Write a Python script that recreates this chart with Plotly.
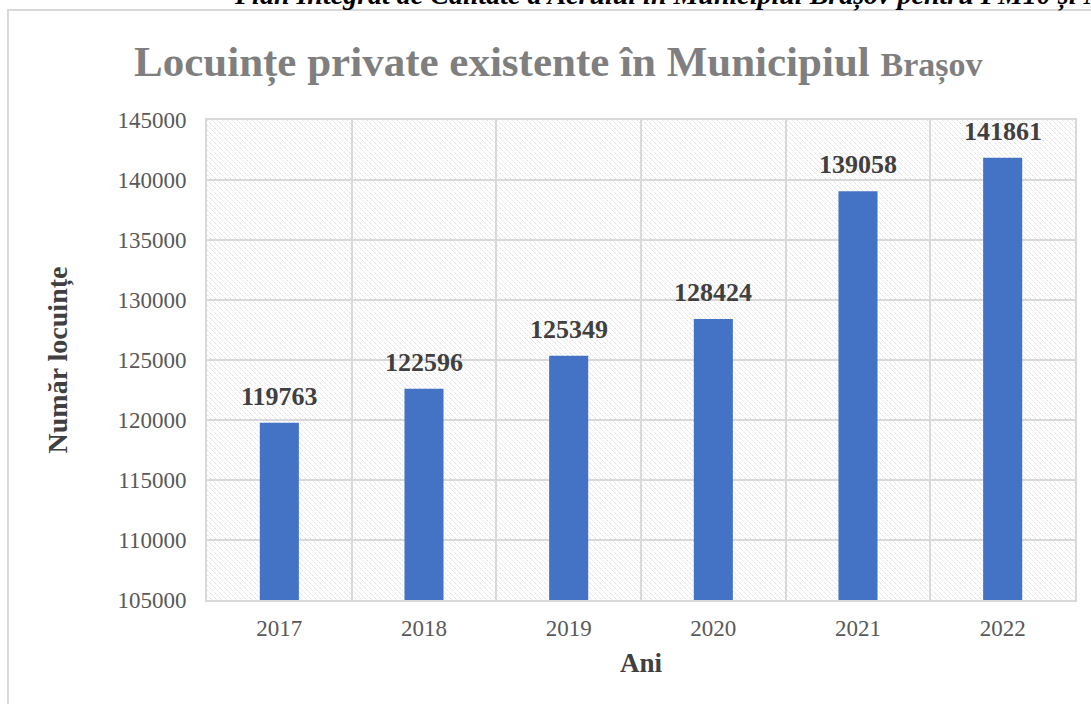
import base64
import plotly.graph_objects as go

# data
years = ["2017", "2018", "2019", "2020", "2021", "2022"]
dwellings = [119763, 122596, 125349, 128424, 139058, 141861]
y_ticks = [105000, 110000, 115000, 120000, 125000, 130000, 135000, 140000, 145000]

SERIF = "Liberation Serif, Times New Roman, serif"
GRID = "#d9d9d9"

# diagonal hatch behind the bars (Excel "wide downward diagonal" look)
hatch_svg = (
    '<svg xmlns="http://www.w3.org/2000/svg" width="868" height="480">'
    '<defs><pattern id="h" width="5" height="5" patternUnits="userSpaceOnUse">'
    '<path d="M-1,-1 L6,6" stroke="#d0d0d0" stroke-width="1" stroke-dasharray="1,1"/>'
    '</pattern></defs>'
    '<rect width="868" height="480" fill="white"/>'
    '<rect width="868" height="480" fill="url(#h)"/></svg>'
)
hatch_uri = "data:image/svg+xml;base64," + base64.b64encode(hatch_svg.encode()).decode()

fig = go.Figure()
fig.add_trace(go.Bar(
    x=years, y=dwellings,
    marker=dict(color="#4472c4", line=dict(width=0)),
    hoverinfo="x+y",
))

# value labels sitting above each bar (x given as category index)
labels = [
    dict(
        x=i, y=v, text=f"<b>{v}</b>", xref="x", yref="y",
        yanchor="bottom", yshift=10, showarrow=False,
        font=dict(family=SERIF, size=26, color="#404040"),
    )
    for i, v in enumerate(dwellings)
]

fig.update_layout(
    width=1091, height=704,
    margin=dict(l=207, r=16, t=120, b=104),
    paper_bgcolor="white",
    plot_bgcolor="rgba(0,0,0,0)",
    showlegend=False,
    bargap=0.73,
    font=dict(family=SERIF, color="#595959"),
    xaxis=dict(
        type="category", tickson="boundaries", ticks="",
        showgrid=True, gridcolor=GRID, gridwidth=2,
        showline=True, linecolor=GRID, linewidth=2, mirror=True,
        ticklabelstandoff=6,
        tickfont=dict(size=23, color="#595959"),
        title=dict(text="<b>Ani</b>", font=dict(size=27, color="#404040"), standoff=14),
    ),
    yaxis=dict(
        range=[105000, 145000], tickvals=y_ticks, tickformat="d",
        showgrid=True, gridcolor=GRID, gridwidth=2,
        showline=True, linecolor=GRID, linewidth=2, mirror=True,
        ticks="", ticklabelstandoff=14,
        tickfont=dict(size=23, color="#595959"),
        title=dict(text="<b>Număr locuințe</b>", font=dict(size=28, color="#404040"), standoff=42),
    ),
    images=[dict(
        source=hatch_uri, xref="paper", yref="paper", x=0, y=1,
        sizex=1, sizey=1, sizing="stretch", xanchor="left", yanchor="top", layer="below",
    )],
    shapes=[dict(
        type="rect", xref="paper", yref="paper",
        x0=-0.2293, x1=1.05, y0=-0.3, y1=1.229,
        line=dict(color=GRID, width=2), fillcolor="rgba(0,0,0,0)", layer="below",
    )],
    annotations=labels + [
        dict(
            text="<b>Locuințe private existente în Municipiul</b> <b><span style='font-size:34px'>Brașov</span></b>",
            xref="paper", yref="paper", x=0.4055, y=1.1208, xanchor="center", yanchor="middle",
            showarrow=False, font=dict(family=SERIF, size=43, color="#7f7f7f"),
        ),
        dict(
            text="<b><i>Plan Integrat de Calitate a Aerului în Municipiul Brașov pentru PM10 și NO2</i></b>",
            xref="paper", yref="paper", x=0.0288, y=1.2229, xanchor="left", yanchor="bottom",
            showarrow=False, font=dict(family=SERIF, size=28, color="#000000"),
        ),
    ],
)

fig.write_html(
    "out.html",
    config={"displayModeBar": False},
    post_script="document.body.style.margin='0';",
)
